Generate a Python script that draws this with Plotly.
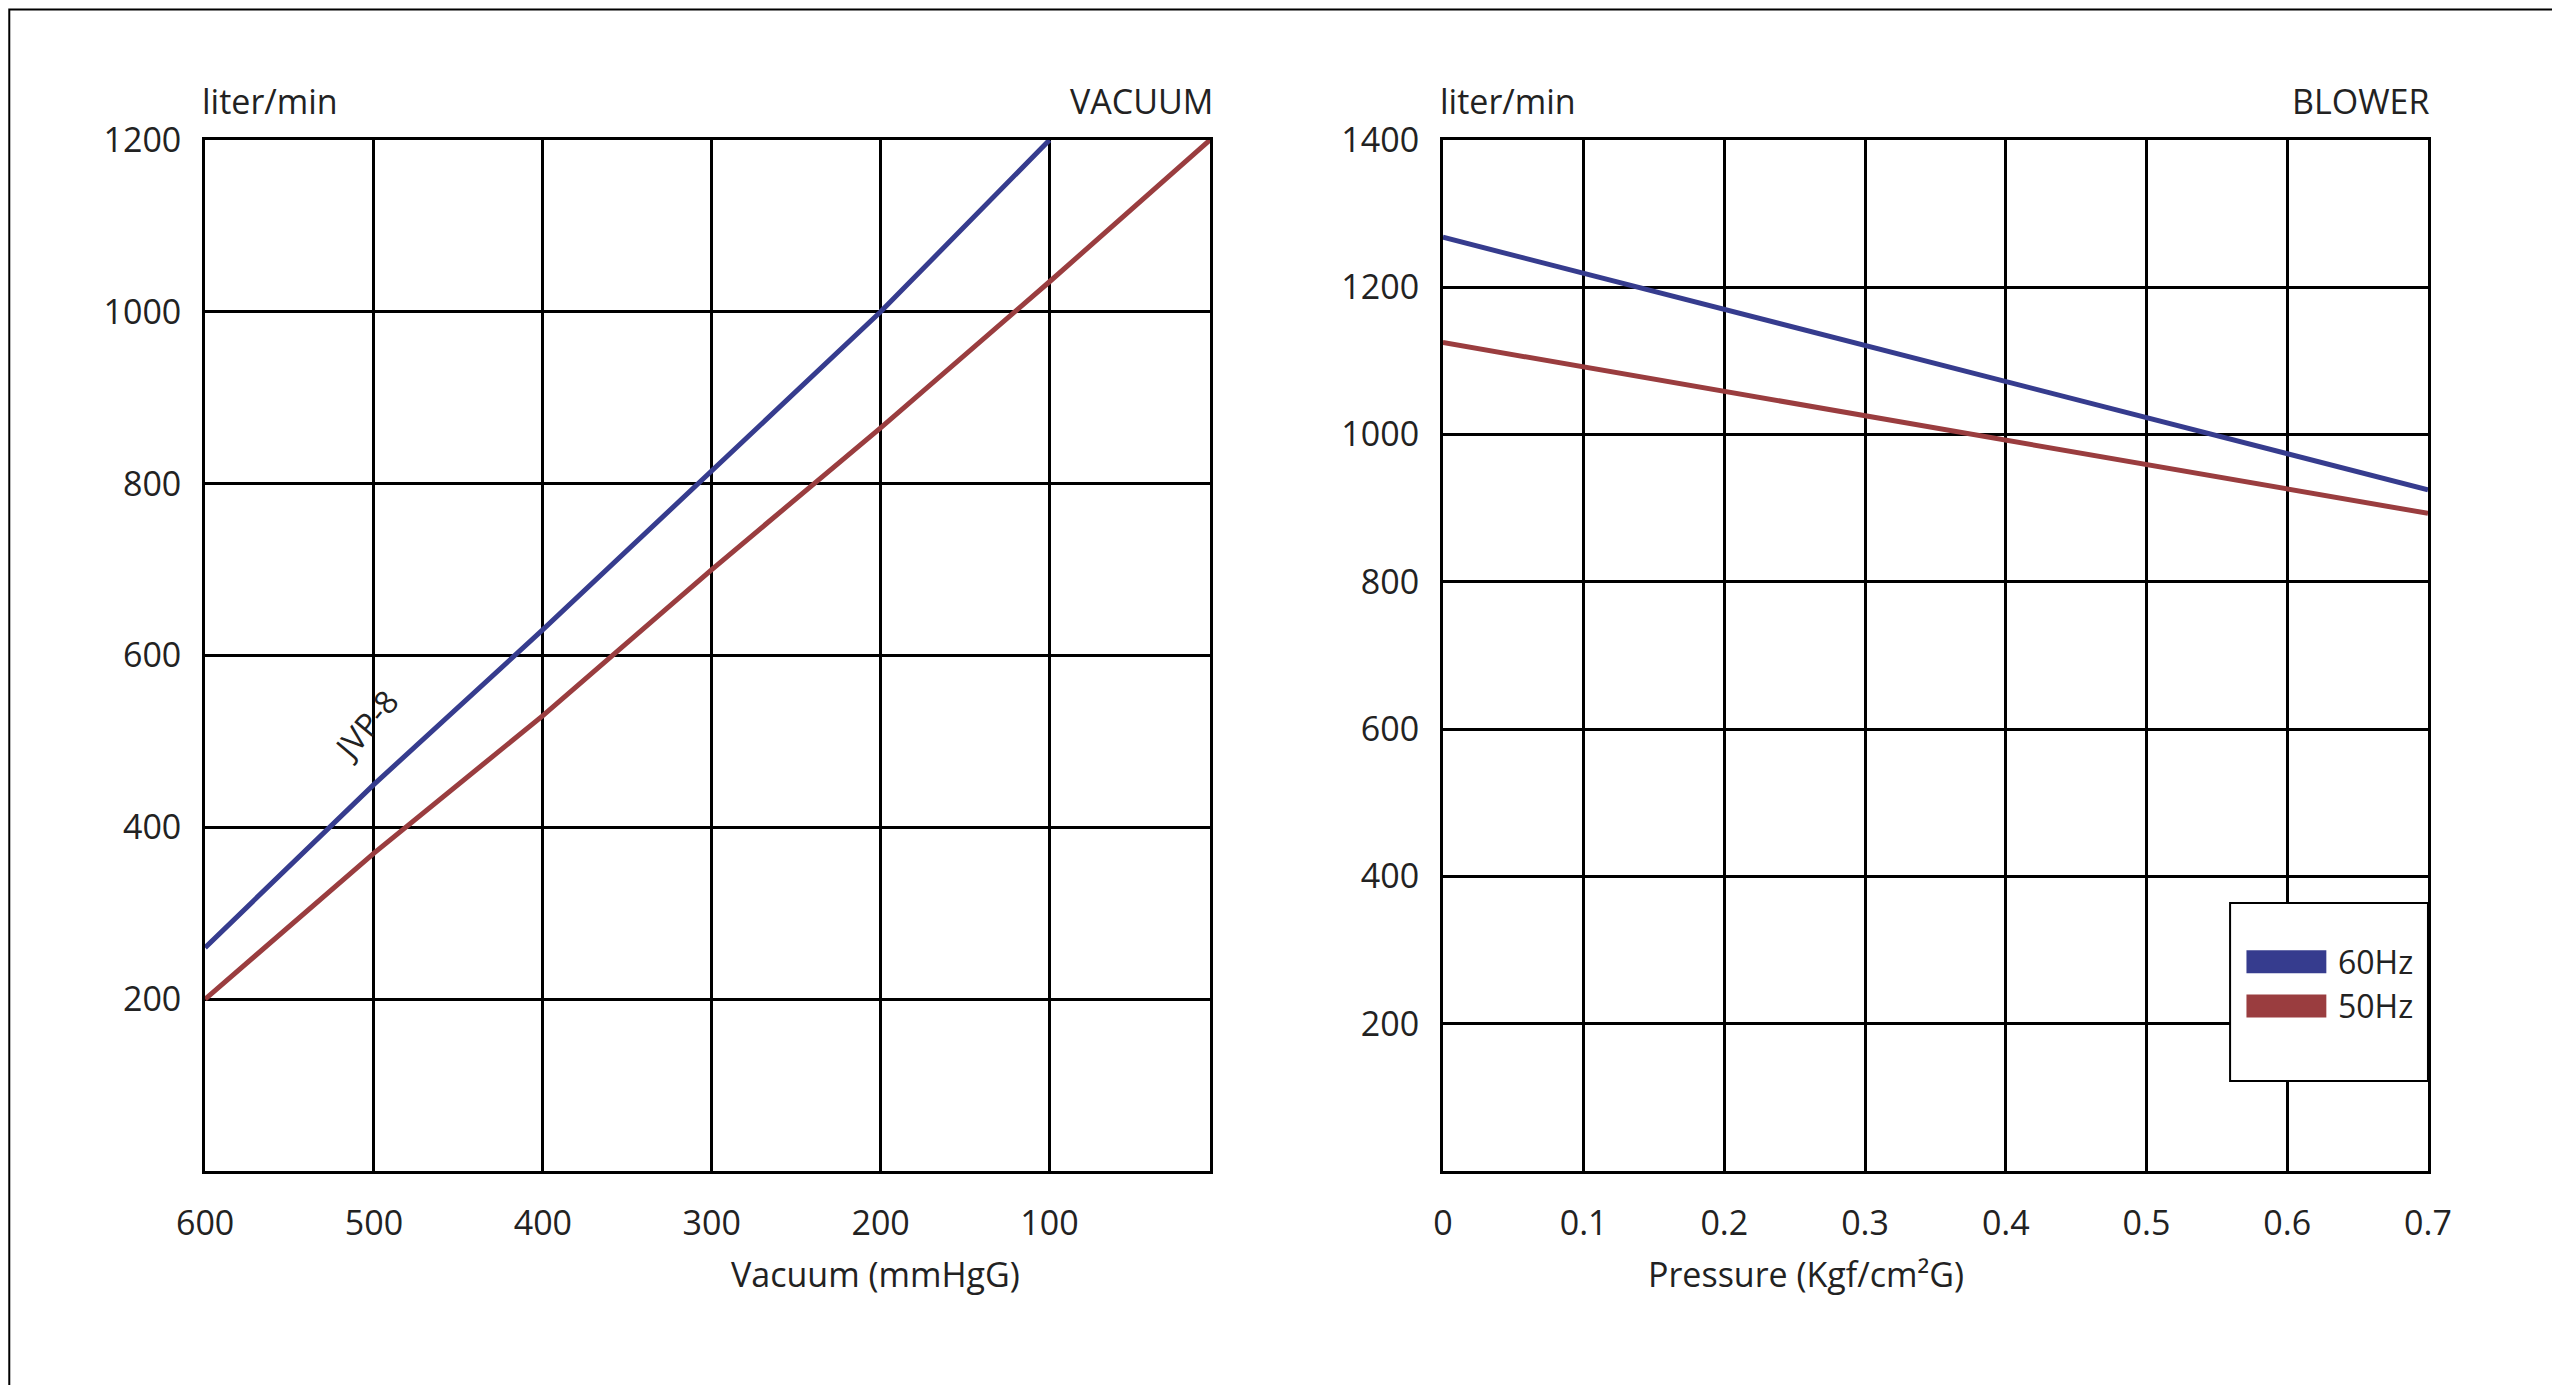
import plotly.graph_objects as go

vac_x = [600, 500, 400, 300, 200, 100]
vac_60 = [260, 450, 630, 815, 1000, 1200]
vac_50_x = [600, 500, 400, 300, 200, 100, 5]
vac_50 = [200, 370, 530, 700, 865, 1035, 1200]
pr_x = [0, 0.7]
pr_60 = [1268, 925]
pr_50 = [1125, 893]
legend_names = ["60Hz", "50Hz"]
BLUE = "#363c8e"
RED = "#9a3d3f"
F = "Open Sans"
TXT = "#222"

fig = go.Figure()
fig.add_trace(go.Scatter(x=vac_x, y=vac_60, mode="lines", line=dict(color=BLUE, width=5), showlegend=False, xaxis="x", yaxis="y"))
fig.add_trace(go.Scatter(x=vac_50_x, y=vac_50, mode="lines", line=dict(color=RED, width=5), showlegend=False, xaxis="x", yaxis="y"))
fig.add_trace(go.Scatter(x=pr_x, y=pr_60, mode="lines", name=legend_names[0], line=dict(color=BLUE, width=5), showlegend=False, xaxis="x2", yaxis="y2"))
fig.add_trace(go.Scatter(x=pr_x, y=pr_50, mode="lines", name=legend_names[1], line=dict(color=RED, width=5), showlegend=False, xaxis="x2", yaxis="y2"))

ax = dict(showgrid=True, gridcolor="black", gridwidth=3, showline=True, linecolor="black", linewidth=3,
          mirror=True, zeroline=False, ticks="", automargin=False, tickfont=dict(family=F, size=34, color=TXT))
fig.update_layout(
    width=2560, height=1385, margin=dict(l=0, r=0, t=0, b=0),
    paper_bgcolor="white", plot_bgcolor="white",
    xaxis=dict(ax, domain=[0.077, 0.4695], range=[600, 5], tickvals=[600, 500, 400, 300, 200, 100], ticklabelstandoff=20),
    yaxis=dict(ax, domain=[0.1603, 0.9047], range=[0, 1200], tickvals=[200, 400, 600, 800, 1000, 1200], ticklabelstandoff=14),
    xaxis2=dict(ax, domain=[0.5605, 0.9453], range=[0, 0.7], tickvals=[0, 0.1, 0.2, 0.3, 0.4, 0.5, 0.6, 0.7], anchor="y2", ticklabelstandoff=20),
    yaxis2=dict(ax, domain=[0.1603, 0.9047], range=[0, 1400], tickvals=[200, 400, 600, 800, 1000, 1200, 1400], anchor="x2", ticklabelstandoff=14),
    showlegend=False,
    shapes=[
        dict(type="rect", xref="paper", yref="paper", x0=0.0005, y0=0.001, x1=0.9995, y1=0.999, line=dict(color="black", width=2)),
        dict(type="rect", xref="paper", yref="paper", x0=0.868, y0=0.2252, x1=0.9453, y1=0.3538, line=dict(color="black", width=2), fillcolor="white", layer="above"),
        dict(type="rect", xref="paper", yref="paper", x0=0.8744, y0=0.3031, x1=0.9056, y1=0.3196, line=dict(width=0), fillcolor=BLUE, layer="above"),
        dict(type="rect", xref="paper", yref="paper", x0=0.8744, y0=0.2712, x1=0.9056, y1=0.2877, line=dict(width=0), fillcolor=RED, layer="above"),
    ],
)
for t, y in zip(legend_names, [0.3113, 0.2795]):
    fig.add_annotation(text=t, x=0.9094, y=y, xref="paper", yref="paper", xanchor="left", yanchor="middle", showarrow=False, font=dict(family=F, size=32, color=TXT))
ann = [
    ("liter/min", 0.075, 0.933, "left"), ("VACUUM", 0.4715, 0.933, "right"),
    ("liter/min", 0.5585, 0.933, "left"), ("BLOWER", 0.9465, 0.933, "right"),
]
for t, x, y, a in ann:
    fig.add_annotation(text=t, x=x, y=y, xref="paper", yref="paper", xanchor=a, yanchor="middle", showarrow=False, font=dict(family=F, size=34, color=TXT))
fig.add_annotation(text="Vacuum (mmHgG)", x=0.2815, y=0.068, xref="paper", yref="paper", showarrow=False, font=dict(family=F, size=34, color=TXT))
fig.add_annotation(text="Pressure (Kgf/cm²G)", x=0.7647, y=0.068, xref="paper", yref="paper", showarrow=False, font=dict(family=F, size=34, color=TXT))
fig.add_annotation(text="JVP-8", x=505, y=520, xref="x", yref="y", textangle=-50, showarrow=False, font=dict(family=F, size=32, color=TXT))
fig.write_html("out.html")
